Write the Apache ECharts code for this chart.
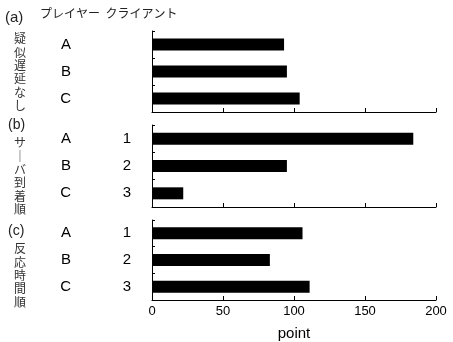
<!DOCTYPE html>
<html><head><meta charset="utf-8">
<script src="https://cdn.jsdelivr.net/npm/echarts@6/dist/echarts.min.js"></script>
<style>html,body{margin:0;padding:0;background:#fff}#c{width:453px;height:342px}</style>
</head><body><div id="c"></div>
<script>
const categories = ['A', 'B', 'C'];
const orderLabels = ['1', '2', '3'];
const panelLabels = ['(a)', '(b)', '(c)'];
const panelTitles = ['疑似遅延なし', 'サ｜バ到着順', '反応時間順'];
const headerText = 'プレイヤー  クライアント';
const valuesA = [93, 95, 104];
const valuesB = [184, 95, 22];
const valuesC = [106, 83, 111];
const xTicks = [0, 50, 100, 150, 200];
const xLabel = 'point';

const panels = [valuesA, valuesB, valuesC];
const grids = [
  {left: 152, right: 17, top: 31, height: 81},
  {left: 152, right: 17, top: 125, height: 82},
  {left: 152, right: 17, top: 220, height: 82}
];
const latin = 'Liberation Sans, Arial, sans-serif';
const cjk = '"Noto Sans CJK JP", sans-serif';

const xAxis = grids.map((g, i) => ({
  gridIndex: i, type: 'value', min: xTicks[0], max: xTicks[xTicks.length-1], interval: xTicks[1]-xTicks[0],
  axisLine: {show: true, lineStyle: {color: '#000', width: 1}},
  axisTick: {show: true, inside: true, length: 4, lineStyle: {color: '#000'}},
  splitLine: {show: false},
  axisLabel: {show: i === 2, color: '#000', fontSize: 13, fontFamily: latin, margin: 5},
  name: i === 2 ? xLabel : '', nameLocation: 'middle', nameGap: 26,
  nameTextStyle: {color: '#000', fontSize: 15, fontFamily: latin}
}));
const yAxis = [];
grids.forEach((g, i) => {
  yAxis.push({
    gridIndex: i, type: 'category', data: categories, inverse: true,
    axisLine: {show: true, lineStyle: {color: '#000', width: 1}},
    axisTick: {show: true, inside: true, length: 3, lineStyle: {color: '#000'}},
    axisLabel: {color: '#000', fontSize: 15, fontFamily: latin, margin: 81}
  });
  yAxis.push({
    gridIndex: i, type: 'category', data: categories, inverse: true, position: 'left',
    axisLine: {show: false}, axisTick: {show: false},
    axisLabel: {show: i > 0, color: '#000', fontSize: 15, fontFamily: latin, margin: 21,
      formatter: (v, idx) => orderLabels[idx]}
  });
});
const series = panels.map((vals, i) => ({
  type: 'bar', xAxisIndex: i, yAxisIndex: i*2, data: vals, barWidth: 12,
  itemStyle: {color: '#000'}, silent: true
}));

const graphic = [
  {type: 'text', left: 5, top: 10, style: {text: panelLabels[0], fontSize: 15, fontFamily: latin, fill: '#222'}},
  {type: 'text', left: 40, top: 7, style: {text: headerText, fontSize: 12, fontFamily: cjk, fill: '#222'}},
  {type: 'text', left: 8, top: 118, style: {text: panelLabels[1], fontSize: 14, fontFamily: latin, fill: '#222'}},
  {type: 'text', left: 8, top: 224, style: {text: panelLabels[2], fontSize: 14, fontFamily: latin, fill: '#222'}}
];
const titleTops = [32, 136, 242];
panelTitles.forEach((t, i) => {
  graphic.push({type: 'text', x: 20, y: titleTops[i],
    style: {text: t.split('').join('\n'), fontSize: 12, lineHeight: 13.4, fontFamily: cjk, fill: '#333', align: 'center', verticalAlign: 'top'}});
});

const chart = echarts.init(document.getElementById('c'), null, {renderer: 'canvas'});
chart.setOption({animation: false, grid: grids, xAxis, yAxis, series, graphic});
</script></body></html>
